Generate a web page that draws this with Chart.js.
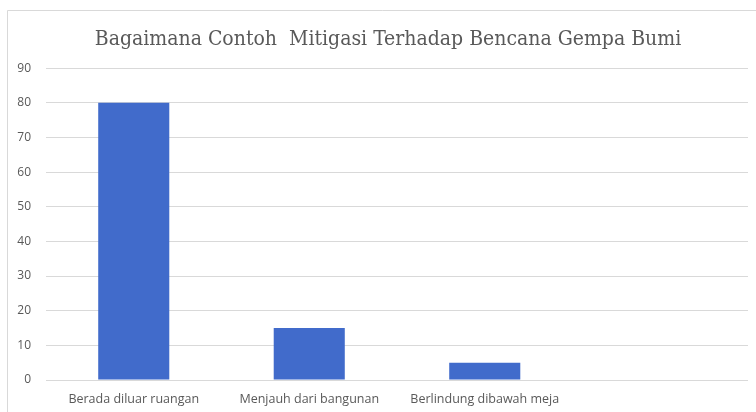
<!DOCTYPE html>
<html>
<head>
<meta charset="utf-8">
<script src="https://cdn.jsdelivr.net/npm/chart.js@4/dist/chart.umd.min.js"></script>
<style>
html,body{margin:0;padding:0;background:#fff;}
#wrap{position:relative;width:756px;height:412px;}
</style>
</head>
<body>
<div id="wrap"><canvas id="c" width="756" height="412"></canvas></div>
<script>
const titleText = 'Bagaimana Contoh  Mitigasi Terhadap Bencana Gempa Bumi';
const categories = ['Berada diluar ruangan', 'Menjauh dari bangunan', 'Berlindung dibawah meja', ''];
const values = [80, 15, 5, null];
const yTicks = [0, 10, 20, 30, 40, 50, 60, 70, 80, 90];

const borderPlugin = {
  id: 'outerBorder',
  afterLayout(chart) {
    if (chart.titleBlock) {
      chart.titleBlock.left = 28;
    }
  },
  beforeDraw(chart) {
    const ctx = chart.ctx;
    ctx.save();
    ctx.fillStyle = '#fff';
    ctx.fillRect(0, 0, chart.width, chart.height);
    ctx.strokeStyle = '#d9d9d9';
    ctx.lineWidth = 1;
    ctx.beginPath();
    ctx.moveTo(7.5, chart.height + 2);
    ctx.lineTo(7.5, 10.5);
    ctx.lineTo(chart.width + 2, 10.5);
    ctx.stroke();
    ctx.restore();
  }
};

new Chart(document.getElementById('c'), {
  type: 'bar',
  data: {
    labels: categories,
    datasets: [{
      data: values,
      backgroundColor: '#416BCB',
      borderWidth: 0,
      barPercentage: 0.405,
      categoryPercentage: 1
    }]
  },
  options: {
    responsive: false,
    animation: false,
    devicePixelRatio: 1,
    layout: { padding: { left: 0, right: 8, top: 0, bottom: 0 } },
    plugins: {
      legend: { display: false },
      tooltip: { enabled: false },
      title: {
        display: true,
        text: titleText,
        color: '#595959',
        font: { family: 'DejaVu Serif Condensed', size: 21, weight: 'normal', lineHeight: 1.2 },
        padding: { top: 27, bottom: 16 }
      }
    },
    scales: {
      x: {
        grid: { display: false, drawTicks: false },
        border: { display: false },
        ticks: {
          color: '#595959',
          font: { family: 'Open Sans', size: 12.5 },
          padding: 12,
          maxRotation: 0,
          autoSkip: false
        },
        afterFit(scale) { scale.height = 32; }
      },
      y: {
        min: 0,
        max: 90,
        afterBuildTicks(scale) { scale.ticks = yTicks.map(v => ({ value: v })); },
        grid: { color: '#d9d9d9', lineWidth: 1, drawTicks: false },
        border: { display: false },
        ticks: {
          color: '#595959',
          font: { family: 'Open Sans', size: 12 },
          padding: 15
        },
        afterFit(scale) { scale.width = 46; }
      }
    }
  },
  plugins: [borderPlugin]
});
</script>
</body>
</html>
